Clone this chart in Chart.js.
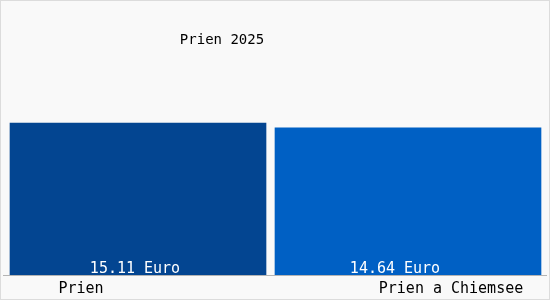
<!DOCTYPE html>
<html>
<head>
<meta charset="utf-8">
<script src="https://cdn.jsdelivr.net/npm/chart.js@4"></script>
<style>
html,body{margin:0;padding:0;background:#f9f9f9;}
#wrap{position:relative;width:548px;height:298px;border:1px solid #dcdcdc;background:#f9f9f9;}
canvas{display:block;}
</style>
</head>
<body>
<div id="wrap"><canvas id="c" width="548" height="298"></canvas></div>
<script>
const title = "Prien 2025";
const categories = ["Prien", "Prien a Chiemsee"];
const values = [15.11, 14.64];
const valueLabels = ["15.11 Euro", "14.64 Euro"];
const barColors = ["#034591", "#0060c4"];

const FONT = "'DejaVu Sans Mono', 'Liberation Mono', monospace";

const datasets = values.map((v, i) => ({
  data: values.map((x, j) => j === i ? x : null),
  backgroundColor: barColors[i],
  barThickness: i === 0 ? 256 : 266,
  borderWidth: 0
}));

const labelPlugin = {
  id: 'labels',
  afterDatasetsDraw(chart) {
    const ctx = chart.ctx;
    const xs = chart.scales.x, ys = chart.scales.y;
    const area = chart.chartArea;
    ctx.save();
    // axis line
    ctx.strokeStyle = '#b4b4b4';
    ctx.lineWidth = 1;
    ctx.beginPath();
    ctx.moveTo(2, area.bottom + 0.5);
    ctx.lineTo(chart.width - 2, area.bottom + 0.5);
    ctx.stroke();
    // title
    ctx.fillStyle = '#000';
    ctx.font = "14px " + FONT;
    ctx.textAlign = 'center';
    ctx.textBaseline = 'middle';
    ctx.fillText(title, 221, 39);
    // value labels
    ctx.font = "15px " + FONT;
    ctx.fillStyle = '#fff';
    const vOff = [-3, -13];
    values.forEach((v, i) => {
      ctx.fillText(valueLabels[i], xs.getPixelForValue(i) + vOff[i], area.bottom - 6);
    });
    // category labels
    ctx.fillStyle = '#000';
    const cOff = [-57, 43];
    categories.forEach((c, i) => {
      ctx.fillText(c, xs.getPixelForValue(i) + cOff[i], area.bottom + 14);
    });
    ctx.restore();
  }
};

new Chart(document.getElementById('c'), {
  type: 'bar',
  data: { labels: categories, datasets },
  options: {
    responsive: false,
    animation: false,
    layout: { padding: { left: 2, right: 6, top: 73, bottom: 24 } },
    plugins: { legend: { display: false }, tooltip: { enabled: false }, title: { display: false } },
    scales: {
      x: { display: false, stacked: true },
      y: { display: false, min: 0, max: 20 }
    }
  },
  plugins: [labelPlugin]
});
</script>
</body>
</html>
